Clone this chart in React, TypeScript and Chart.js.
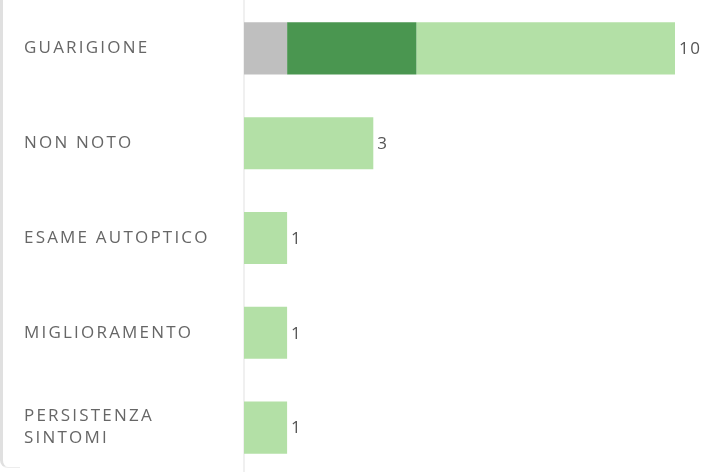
import React, { useEffect, useRef } from 'react';
import { Chart, registerables } from 'chart.js';

Chart.register(...registerables);

const categories: (string | string[])[] = [
  'GUARIGIONE',
  'NON NOTO',
  'ESAME AUTOPTICO',
  'MIGLIORAMENTO',
  ['PERSISTENZA', 'SINTOMI'],
];
const seriesNames = ['Non specificato', 'Grave', 'Lieve'];
const grayValues = [1, 0, 0, 0, 0];
const darkGreenValues = [3, 0, 0, 0, 0];
const lightGreenValues = [6, 3, 1, 1, 1];
const xMin = 0;
const xMax = 10;

const seriesColors = ['#bfbfbf', '#4a9650', '#b3e0a6'];

const totalsPlugin = {
  id: 'totals',
  afterDatasetsDraw(chart: any) {
    const ctx = chart.ctx as CanvasRenderingContext2D;
    ctx.save();
    ctx.font = '17px "Open Sans", sans-serif';
    ctx.fillStyle = '#555555';
    ctx.textBaseline = 'middle';
    ctx.textAlign = 'left';
    (ctx as any).letterSpacing = '1.5px';
    categories.forEach((_, i) => {
      let total = 0;
      let last = -1;
      chart.data.datasets.forEach((ds: any, k: number) => {
        const v = ds.data[i];
        if (v) {
          total += v;
          last = k;
        }
      });
      if (last < 0) return;
      const bar = chart.getDatasetMeta(last).data[i];
      ctx.fillText(String(total), bar.x + 4, bar.y + 1);
    });
    ctx.restore();
  },
};

const spacingPlugin = {
  id: 'labelSpacing',
  beforeDraw(chart: any) {
    (chart.ctx as any).letterSpacing = '2.2px';
  },
  afterDraw(chart: any) {
    (chart.ctx as any).letterSpacing = '0px';
  },
};

export default function App() {
  const ref = useRef<HTMLCanvasElement | null>(null);

  useEffect(() => {
    document.body.style.margin = '0';
    if (!ref.current) return;
    const chart = new Chart(ref.current, {
      type: 'bar',
      data: {
        labels: categories as any,
        datasets: [
          { label: seriesNames[0], data: grayValues, backgroundColor: seriesColors[0] },
          { label: seriesNames[1], data: darkGreenValues, backgroundColor: seriesColors[1] },
          { label: seriesNames[2], data: lightGreenValues, backgroundColor: seriesColors[2] },
        ],
      },
      options: {
        indexAxis: 'y',
        responsive: false,
        animation: false,
        devicePixelRatio: 1,
        layout: { padding: { left: 24, right: 33, top: 1, bottom: 1 } },
        datasets: {
          bar: { categoryPercentage: 1, barPercentage: 0.55, borderWidth: 0 },
        },
        plugins: {
          legend: { display: false },
          tooltip: { enabled: false },
        },
        scales: {
          x: {
            stacked: true,
            display: false,
            min: xMin,
            max: xMax,
          },
          y: {
            stacked: true,
            grid: { display: false },
            border: { display: true, color: '#f0f0f0', width: 2 },
            afterFit: (scale: any) => {
              scale.width = 220;
              scale.paddingTop = 0;
              scale.paddingBottom = 0;
            },
            ticks: {
              crossAlign: 'far',
              color: '#666666',
              font: { family: '"Open Sans", sans-serif', size: 17, lineHeight: 1.3 },
            },
          },
        },
      },
      plugins: [spacingPlugin, totalsPlugin],
    } as any);
    return () => chart.destroy();
  }, []);

  return (
    <div
      style={{
        position: 'fixed',
        left: 0,
        top: 0,
        width: 708,
        height: 472,
        overflow: 'hidden',
        background: '#ffffff',
      }}
    >
      <div
        style={{
          position: 'absolute',
          left: 0,
          top: -30,
          width: 20,
          height: 498,
          boxSizing: 'border-box',
          borderLeft: '3px solid #e0e0e0',
          borderBottom: '1px solid #ededed',
          borderBottomLeftRadius: 8,
          background: '#ffffff',
        }}
      />
      <canvas
        ref={ref}
        width={708}
        height={476}
        style={{ position: 'absolute', left: 0, top: 0, width: 708, height: 476 }}
      />
    </div>
  );
}
